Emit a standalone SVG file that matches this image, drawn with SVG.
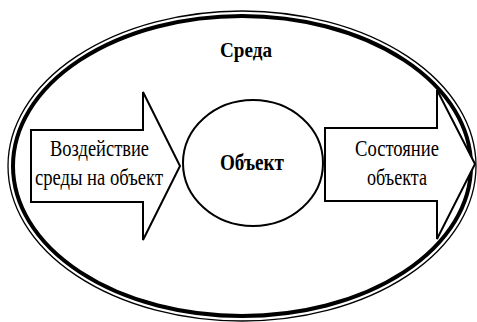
<svg xmlns="http://www.w3.org/2000/svg" width="477" height="322" viewBox="0 0 477 322">
<style>
.shape{fill:#fff;stroke:#000;stroke-width:2;stroke-linejoin:miter}
.t{font-family:"Liberation Serif","Times New Roman",serif;font-size:24px;fill:#000;text-anchor:middle}
.b{font-weight:bold}
</style>
<rect width="477" height="322" fill="#fff"/>
<g id="sreda">
<ellipse cx="242" cy="166" rx="234" ry="155" fill="none" stroke="#000" stroke-width="1.3"/>
<ellipse cx="242" cy="166" rx="229" ry="150" fill="#fff" stroke="#000" stroke-width="4"/>
<text class="t b" x="246" y="57" style="font-size:22px" textLength="52" lengthAdjust="spacingAndGlyphs">Среда</text>
</g>
<g id="connectors">
<g id="vozdeystvie">
<polygon class="shape" points="31,130 143,130 143,92 180,166 143,240 143,202 31,202"/>
<text class="t" x="99.5" y="155.5" textLength="99" lengthAdjust="spacingAndGlyphs">Воздействие</text>
<text class="t" x="99" y="184.5" textLength="128" lengthAdjust="spacingAndGlyphs">среды на объект</text>
</g>
<g id="sostoyanie">
<polygon class="shape" points="325,128 437,128 437,90 475,164 437,239 437,201 325,201"/>
<text class="t" x="397" y="155.5" textLength="84" lengthAdjust="spacingAndGlyphs">Состояние</text>
<text class="t" x="397" y="184.5" textLength="60" lengthAdjust="spacingAndGlyphs">объекта</text>
</g>
</g>
<g id="obekt">
<ellipse class="shape" cx="253" cy="163" rx="70" ry="63"/>
<text class="t b" x="252" y="170" style="font-size:24px" textLength="64" lengthAdjust="spacingAndGlyphs">Объект</text>
</g>
</svg>
